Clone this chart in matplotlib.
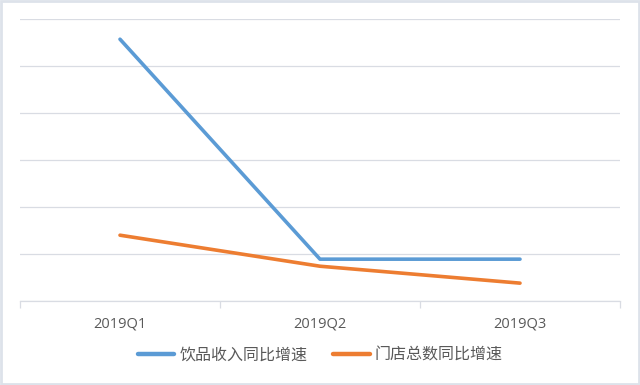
import numpy as np
import matplotlib.pyplot as plt
from matplotlib.patches import Rectangle

plt.rcParams['font.family'] = ['Noto Sans CJK SC', 'DejaVu Sans']

# 数据（读图估计，纵轴无刻度）
quarters = ["2019Q1", "2019Q2", "2019Q3"]
drink_growth = [55.7, 8.9, 8.9]
store_growth = [14.0, 7.4, 3.8]

blue = "#5b9bd5"
orange = "#ed7d31"
grid_c = "#d9dce3"

fig = plt.figure(figsize=(6.4, 3.85), dpi=100)
ax = fig.add_axes([20/640, 1-301/385, 600/640, 282/385])

x = np.arange(len(quarters))
ax.plot(x, drink_growth, color=blue, lw=2.6, label="饮品收入同比增速", solid_capstyle='round')
ax.plot(x, store_growth, color=orange, lw=2.6, label="门店总数同比增速", solid_capstyle='round')

ax.set_xlim(-0.5, 2.5)
ax.set_ylim(0, 60)
ax.set_yticks(np.arange(0, 61, 10))
ax.yaxis.grid(True, color=grid_c, lw=0.9)
ax.tick_params(axis='y', left=False, labelleft=False)
for s in ['top', 'right', 'left']:
    ax.spines[s].set_visible(False)
ax.spines['bottom'].set_color(grid_c)
ax.spines['bottom'].set_linewidth(0.9)

ax.set_xticks(x)
ax.set_xticklabels(quarters, fontsize=10.5, color="#595959", family=['Open Sans', 'DejaVu Sans'])
ax.tick_params(axis='x', which='major', length=0, pad=11)
ax.set_xticks([-0.5, 0.5, 1.5, 2.5], minor=True)
ax.tick_params(axis='x', which='minor', length=5, color=grid_c, width=0.9)

leg = fig.legend(loc='center', bbox_to_anchor=(0.5, 1-355/385), ncol=2, frameon=False,
                 fontsize=11.5, handlelength=2.3, columnspacing=1.6, handletextpad=0.3)
for t in leg.get_texts():
    t.set_color("#595959")
for h in leg.legend_handles:
    h.set_linewidth(3.2)

# 图表外框
fig.patches.append(Rectangle((0.002, 0.003), 0.996, 0.994, transform=fig.transFigure,
                             fill=False, edgecolor="#dde2ea", lw=2))

plt.savefig("out.png", dpi=100)
